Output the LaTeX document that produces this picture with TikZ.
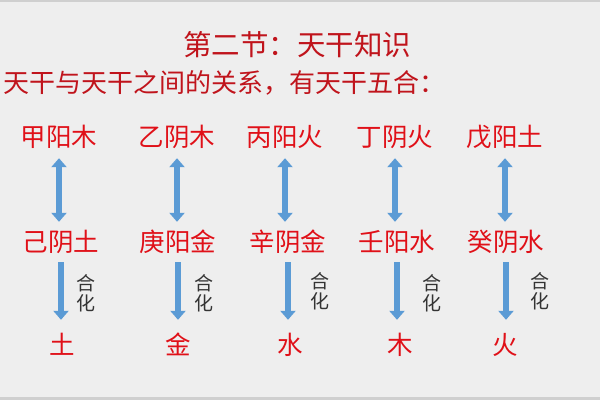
\documentclass[tikz,border=0pt]{standalone}
\usepackage{fontspec}
\setmainfont{Noto Sans CJK SC}
\usetikzlibrary{arrows.meta}
\definecolor{bg}{HTML}{EEEEEE}
\definecolor{edge}{HTML}{CFCFCF}
\definecolor{titred}{HTML}{C0141C}
\definecolor{labred}{HTML}{E01018}
\definecolor{arrblue}{HTML}{5B9BD5}
\definecolor{hgray}{HTML}{333333}
\tikzset{
  lab/.style={font=\fontsize{25.5}{26}\selectfont, text=labred, inner sep=0pt, text height=20pt, text depth=2pt},
  hua/.style={font=\fontsize{19}{20}\selectfont, text=hgray, inner sep=0pt, align=center},
  dbl/.style={arrblue, line width=6.5pt, shorten <=10pt, shorten >=9pt, {Triangle[length=9pt,width=15pt]}-{Triangle[length=9pt,width=15pt]}},
  down/.style={arrblue, line width=6.5pt, shorten <=9pt, shorten >=14pt, -{Triangle[length=9pt,width=15pt]}},
}
\begin{document}
\begin{tikzpicture}[x=1pt,y=-1pt]
\useasboundingbox (0,0) rectangle (600,400);
\fill[bg] (0,0) rectangle (600,400);
\fill[edge] (0,0) rectangle (600,2);
\fill[edge] (0,397) rectangle (600,400);
\node[font=\fontsize{28.5}{29}\selectfont, text=titred, inner sep=0pt] (title) at (297,45) {第二节：天干知识};
\node[font=\fontsize{26}{26}\selectfont, text=titred, inner sep=0pt, anchor=west] (sub) at (3,83) {天干与天干之间的关系，有天干五合：};
% row 1
\node[lab] (t1) at (59,137) {甲阳木};
\node[lab] (t2) at (177,137) {乙阴木};
\node[lab] (t3) at (285,137) {丙阳火};
\node[lab] (t4) at (395,137) {丁阴火};
\node[lab] (t5) at (505,137) {戊阳土};
% row 2
\node[lab] (b1) at (61,242) {己阴土};
\node[lab] (b2) at (178,242) {庚阳金};
\node[lab] (b3) at (288,242) {辛阴金};
\node[lab] (b4) at (397,242) {壬阳水};
\node[lab] (b5) at (506,242) {癸阴水};
% row 3
\node[lab] (r1) at (62,345) {土};
\node[lab] (r2) at (178,345) {金};
\node[lab] (r3) at (290,345) {水};
\node[lab] (r4) at (400,345) {木};
\node[lab] (r5) at (505,345) {火};
% he hua labels
\node[hua] (h1) at (86,293) {合\\化};
\node[hua] (h2) at (204,293) {合\\化};
\node[hua] (h3) at (320,291) {合\\化};
\node[hua] (h4) at (432,293) {合\\化};
\node[hua] (h5) at (540,291) {合\\化};
% double arrows
\foreach \i in {1,...,5}{
  \draw[dbl] (t\i.south) -- (t\i.south |- b\i.north);
}
% down arrows
\foreach \i in {1,...,5}{
  \draw[down] (b\i.south) -- (b\i.south |- r\i.north);
}
\end{tikzpicture}
\end{document}
